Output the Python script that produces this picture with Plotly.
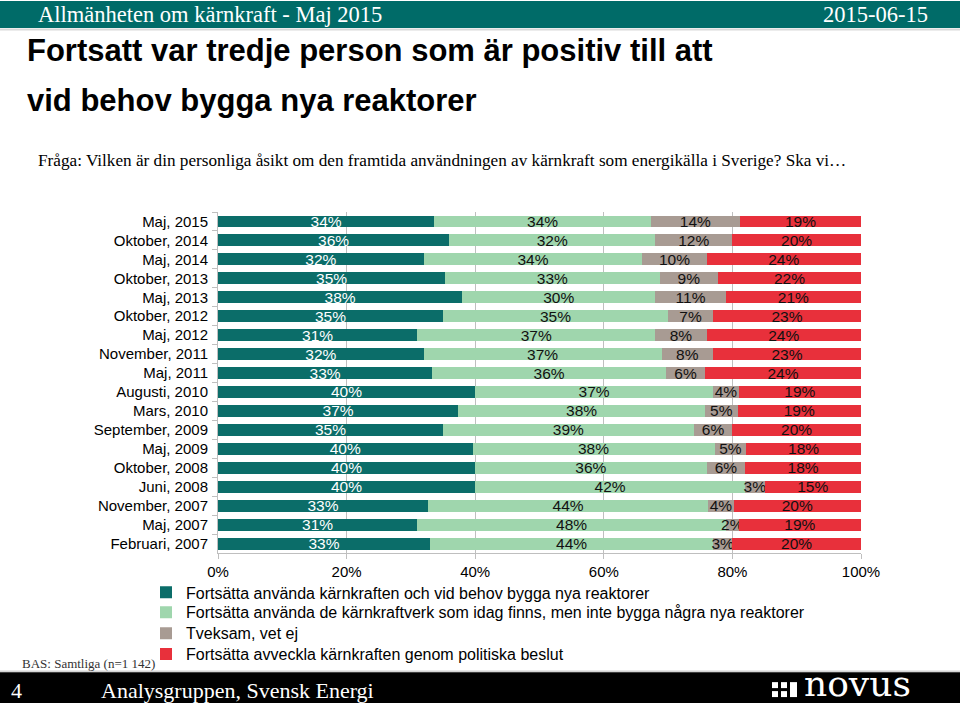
import plotly.graph_objects as go

categories = ["Maj, 2015", "Oktober, 2014", "Maj, 2014", "Oktober, 2013", "Maj, 2013",
              "Oktober, 2012", "Maj, 2012", "November, 2011", "Maj, 2011", "Augusti, 2010",
              "Mars, 2010", "September, 2009", "Maj, 2009", "Oktober, 2008", "Juni, 2008",
              "November, 2007", "Maj, 2007", "Februari, 2007"]

bygga = [34, 36, 32, 35, 38, 35, 31, 32, 33, 40, 37, 35, 40, 40, 40, 33, 31, 33]
anvanda = [34, 32, 34, 33, 30, 35, 37, 37, 36, 37, 38, 39, 38, 36, 42, 44, 48, 44]
tveksam = [14, 12, 10, 9, 11, 7, 8, 8, 6, 4, 5, 6, 5, 6, 3, 4, 2, 3]
avveckla = [19, 20, 24, 22, 21, 23, 24, 23, 24, 19, 19, 20, 18, 18, 15, 20, 19, 20]

series_names = [
    "Fortsätta använda kärnkraften och vid behov bygga nya reaktorer",
    "Fortsätta använda de kärnkraftverk som idag finns, men inte bygga några nya reaktorer",
    "Tveksam, vet ej",
    "Fortsätta avveckla kärnkraften genom politiska beslut",
]
series_values = [bygga, anvanda, tveksam, avveckla]
series_colors = ["#0b6d69", "#9fd6ad", "#a89b93", "#e8303b"]
text_colors = ["#ffffff", "#111111", "#111111", "#111111"]

x_tickvals = [0, 20, 40, 60, 80, 100]
x_ticktext = ["0%", "20%", "40%", "60%", "80%", "100%"]

W, H = 960, 704
L, R, T, B = 218, 861, 211.5, 553.5


def px(x):
    return (x - L) / (R - L)


def py(y):
    return (B - y) / (B - T)


SANS = "Liberation Sans, Arial, sans-serif"
SERIF = "Liberation Serif, Times New Roman, serif"

legend_ids = ["legend", "legend2", "legend3", "legend4"]
legend_rows = [593, 613, 634, 655]

fig = go.Figure()
for name, vals, col, tcol, lid in zip(series_names, series_values, series_colors, text_colors, legend_ids):
    fig.add_trace(go.Bar(
        y=categories, x=vals, name=name, orientation="h",
        marker=dict(color=col, line=dict(width=0)),
        text=[f"{v}%" for v in vals],
        textposition="inside", insidetextanchor="middle", textangle=0,
        constraintext="none",
        insidetextfont=dict(family=SANS, size=15.5, color=tcol),
        hoverinfo="x+y+name",
        legend=lid,
    ))

shapes = [
    dict(type="rect", xref="paper", yref="paper", x0=px(0), x1=px(W), y0=py(27), y1=py(0),
         fillcolor="#006b68", line=dict(width=0), layer="below"),
    dict(type="line", xref="paper", yref="paper", x0=px(0), x1=px(W), y0=py(28.5), y1=py(28.5),
         line=dict(color="#d9d9d9", width=2)),
    dict(type="rect", xref="paper", yref="paper", x0=px(0), x1=px(W), y0=py(704), y1=py(673),
         fillcolor="#000000", line=dict(width=0), layer="below"),
    dict(type="line", xref="paper", yref="paper", x0=px(0), x1=px(W), y0=py(672), y1=py(672),
         line=dict(color="#bbbbbb", width=1)),
]
# novus logo squares
for cx in (772, 781):
    for cy in (683, 692):
        shapes.append(dict(type="rect", xref="paper", yref="paper", x0=px(cx), x1=px(cx + 6),
                           y0=py(cy + 6), y1=py(cy), fillcolor="#ffffff", line=dict(width=0)))
shapes.append(dict(type="rect", xref="paper", yref="paper", x0=px(790), x1=px(797),
                   y0=py(698), y1=py(683), fillcolor="#ffffff", line=dict(width=0)))

annotations = [
    dict(text="Allmänheten om kärnkraft - Maj 2015", x=px(36), y=py(13), xanchor="left", yanchor="middle",
         font=dict(family=SERIF, size=22.5, color="#ffffff")),
    dict(text="2015-06-15", x=px(930), y=py(13), xanchor="right", yanchor="middle",
         font=dict(family=SERIF, size=22.5, color="#ffffff")),
    dict(text="<b>Fortsatt var tredje person som är positiv till att</b>",
         x=px(25), y=py(50), xanchor="left", yanchor="middle", align="left",
         font=dict(family=SANS, size=31, color="#000000")),
    dict(text="<b>vid behov bygga nya reaktorer</b>",
         x=px(25), y=py(100), xanchor="left", yanchor="middle", align="left",
         font=dict(family=SANS, size=31, color="#000000")),
    dict(text="Fråga: Vilken är din personliga åsikt om den framtida användningen av kärnkraft som energikälla i Sverige? Ska vi…",
         x=px(36), y=py(160), xanchor="left", yanchor="middle",
         font=dict(family=SERIF, size=17.2, color="#000000")),
    dict(text="BAS: Samtliga (n=1 142)", x=px(20), y=py(664), xanchor="left", yanchor="middle",
         font=dict(family=SERIF, size=13, color="#333333")),
    dict(text="4", x=px(9), y=py(691), xanchor="left", yanchor="middle",
         font=dict(family=SERIF, size=22, color="#ffffff")),
    dict(text="Analysgruppen, Svensk Energi", x=px(99), y=py(691), xanchor="left", yanchor="middle",
         font=dict(family=SERIF, size=22, color="#ffffff")),
    dict(text="novus", x=px(802), y=py(684), xanchor="left", yanchor="middle",
         font=dict(family="DejaVu Serif, serif", size=36, color="#ffffff")),
]
for a in annotations:
    a.update(xref="paper", yref="paper", showarrow=False)

legend_layout = {}
for lid, row in zip(legend_ids, legend_rows):
    legend_layout[lid] = dict(
        orientation="v", x=px(146), y=py(row), xanchor="left", yanchor="middle",
        font=dict(family=SANS, size=16, color="#000000"), itemwidth=30,
        bgcolor="rgba(0,0,0,0)", borderwidth=0,
    )

fig.update_layout(
    width=W, height=H,
    margin=dict(l=L, r=W - R, t=T, b=H - B, pad=0),
    paper_bgcolor="#ffffff", plot_bgcolor="#ffffff",
    barmode="stack", barnorm="percent", bargap=0.37,
    shapes=shapes, annotations=annotations,
    showlegend=True,
    font=dict(family=SANS, size=15, color="#000000"),
    **legend_layout,
)
fig.update_xaxes(range=[0, 100], tickvals=x_tickvals, ticktext=x_ticktext,
                 showgrid=True, gridcolor="#bfbfbf", gridwidth=1,
                 ticks="outside", ticklen=5, tickcolor="#bfbfbf",
                 showline=True, linecolor="#bfbfbf", zeroline=False,
                 tickfont=dict(family=SANS, size=15, color="#000000"), fixedrange=True)
fig.update_yaxes(categoryorder="array", categoryarray=categories, autorange="reversed",
                 tickson="boundaries", ticks="outside", ticklen=5, tickcolor="#bfbfbf",
                 ticklabelstandoff=6,
                 showline=True, linecolor="#bfbfbf", showgrid=False,
                 tickfont=dict(family=SANS, size=15, color="#000000"), fixedrange=True)

fig.write_html("out.html", config={"displayModeBar": False},
               post_script="document.body.style.margin='0';document.body.style.overflow='hidden';")
